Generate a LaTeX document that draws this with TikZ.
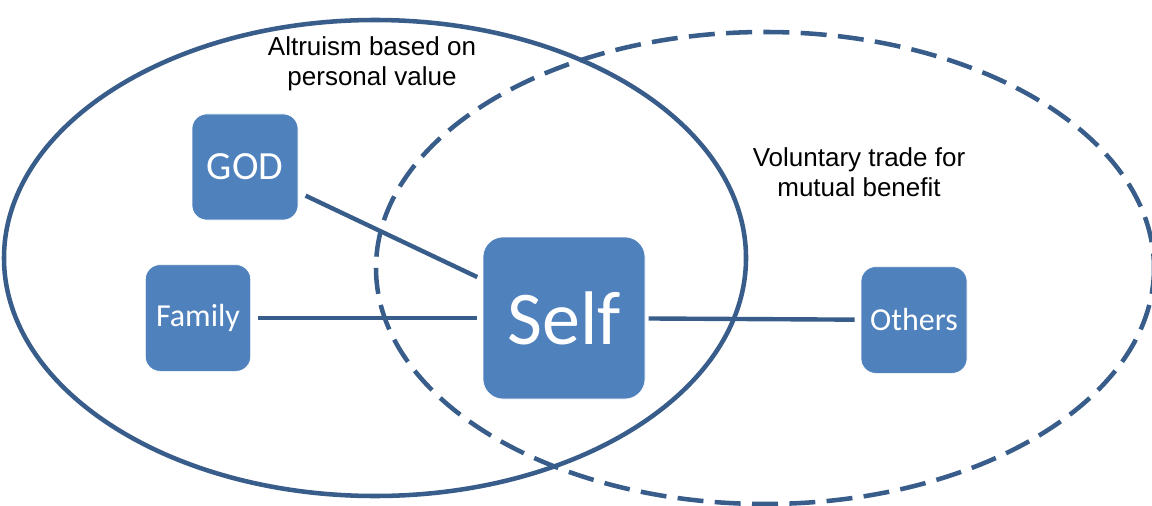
\documentclass[tikz,border=0pt]{standalone}
\usepackage{fontspec}
\setmainfont{Carlito}
\newfontfamily\labelfont{Liberation Sans}
\usetikzlibrary{shapes}
\definecolor{boxblue}{RGB}{79,129,189}
\definecolor{rimblue}{RGB}{56,93,138}

\begin{document}
\begin{tikzpicture}[x=0.75pt,y=0.75pt,yscale=-1,xscale=1,
  box/.style={fill=boxblue, draw=white, line width=0.5pt, text=white, rounded corners=11pt, inner sep=0pt},
  rim/.style={color=rimblue, line width=3.4pt},
  link/.style={color=rimblue, line width=3.3pt},
  tag/.style={font=\labelfont\fontsize{19.5}{22.5}\selectfont, align=center, inner sep=0pt}]
\useasboundingbox (0,0) rectangle (1152,506);
\draw [rim] (375,258) ellipse (371 and 238);
\draw [rim, dash pattern=on 19.5pt off 8.5pt] (765,268) ellipse (389 and 236);
\node [box, minimum width=79.5pt, minimum height=79.5pt, font=\fontsize{30}{32}\selectfont] (god) at (245,167) {GOD};
\node [box, minimum width=79pt, minimum height=80pt, font=\fontsize{24}{26}\selectfont] (family) at (198,318) {Family};
\node [box, minimum width=121.5pt, minimum height=121.5pt, rounded corners=15pt, font=\fontsize{57}{60}\selectfont] (self) at (564,318) {Self};
\node [box, minimum width=79.5pt, minimum height=80pt, font=\fontsize{24}{26}\selectfont] (others) at (914,320) {Others};
\draw [link, shorten <=6pt, shorten >=4.5pt] (god) -- (self);
\draw [link, shorten <=5pt, shorten >=4pt] (family) -- (self);
\draw [link, shorten <=2.5pt, shorten >=4.5pt] (self) -- (others);
\node [tag] (altruism) at (372,64) {Altruism based on\\personal value};
\node [tag] (trade) at (859,172) {Voluntary trade for\\mutual benefit};
\end{tikzpicture}
\end{document}
